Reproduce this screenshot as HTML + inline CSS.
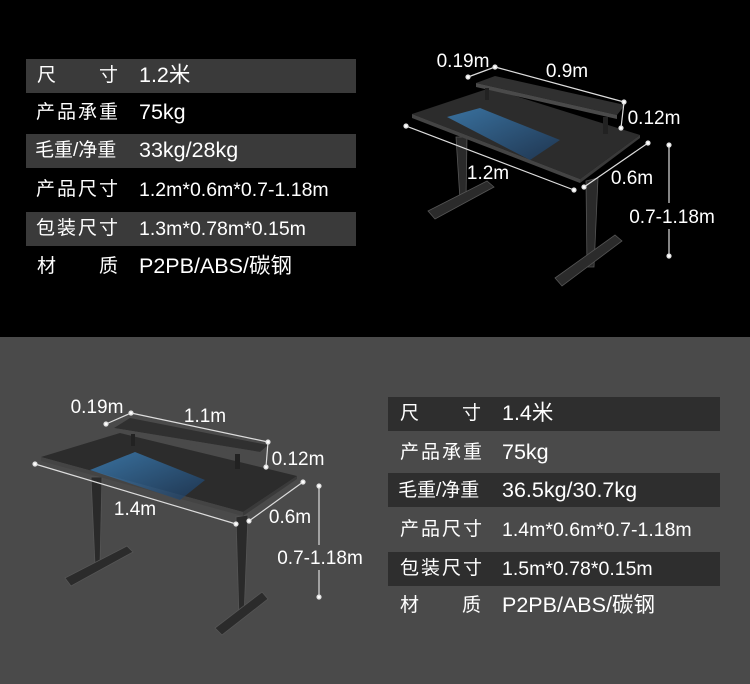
<!DOCTYPE html>
<html><head><meta charset="utf-8"><style>
body{margin:0;width:750px;height:684px;overflow:hidden;background:#000;font-family:"Liberation Sans","Noto Sans CJK SC",sans-serif;color:#fff;position:relative}
.bot{position:absolute;left:0;top:337px;width:750px;height:347px;background:#4a4a4a}
.bar{position:absolute;height:34px}
.t{position:absolute;white-space:nowrap;line-height:1}
.l{font-size:19px;letter-spacing:2px}
.n{font-size:19px;letter-spacing:0}
.v{font-size:21.5px}
.s{font-size:19.5px}
svg{position:absolute;left:0;top:0}
</style></head><body>
<div class="bot"></div>
<div class="bar" style="left:26px;top:59px;width:330px;background:#3a3a3a"></div>
<div class="bar" style="left:26px;top:134px;width:330px;background:#3a3a3a"></div>
<div class="bar" style="left:26px;top:212px;width:330px;background:#3a3a3a"></div>
<div class="bar" style="left:388px;top:397px;width:332px;background:#2e2e2e"></div>
<div class="bar" style="left:388px;top:473px;width:332px;background:#2e2e2e"></div>
<div class="bar" style="left:388px;top:552px;width:332px;background:#2e2e2e"></div>

<div class="t l" style="left:37px;top:66px">尺</div><div class="t l" style="left:99px;top:66px">寸</div><div class="t v" style="left:139px;top:65px">1.2米</div>
<div class="t l" style="left:36px;top:103px">产品承重</div><div class="t v" style="left:139px;top:102px">75kg</div>
<div class="t n" style="left:35px;top:141px">毛重/净重</div><div class="t v" style="left:139px;top:140px">33kg/28kg</div>
<div class="t l" style="left:36px;top:180px">产品尺寸</div><div class="t s" style="left:139px;top:181px">1.2m*0.6m*0.7-1.18m</div>
<div class="t l" style="left:36px;top:219px">包装尺寸</div><div class="t s" style="left:139px;top:220px">1.3m*0.78m*0.15m</div>
<div class="t l" style="left:37px;top:257px">材</div><div class="t l" style="left:99px;top:257px">质</div><div class="t v" style="left:139px;top:256px">P2PB/ABS/碳钢</div>

<div class="t l" style="left:400px;top:404px">尺</div><div class="t l" style="left:462px;top:404px">寸</div><div class="t v" style="left:502px;top:403px">1.4米</div>
<div class="t l" style="left:400px;top:443px">产品承重</div><div class="t v" style="left:502px;top:442px">75kg</div>
<div class="t n" style="left:398px;top:481px">毛重/净重</div><div class="t v" style="left:502px;top:480px">36.5kg/30.7kg</div>
<div class="t l" style="left:400px;top:520px">产品尺寸</div><div class="t s" style="left:502px;top:521px">1.4m*0.6m*0.7-1.18m</div>
<div class="t l" style="left:400px;top:559px">包装尺寸</div><div class="t s" style="left:502px;top:560px">1.5m*0.78*0.15m</div>
<div class="t l" style="left:400px;top:596px">材</div><div class="t l" style="left:462px;top:596px">质</div><div class="t v" style="left:502px;top:595px">P2PB/ABS/碳钢</div>

<svg width="750" height="684" viewBox="0 0 750 684">
<defs><linearGradient id="bl" x1="0" y1="0" x2="1" y2="1"><stop offset="0" stop-color="#3f8fd0"/><stop offset="1" stop-color="#1a3a60"/></linearGradient></defs>
<g>
<polygon points="456,137 467,137 466,200 460,200" fill="#2a2a2a" stroke="#555" stroke-width="0.8"/>
<polygon points="428,211 487,181 494,187 435,219" fill="#2b2b2b" stroke="#555" stroke-width="0.8"/>
<polygon points="586,181 598,178 594,267 587,267" fill="#2a2a2a" stroke="#555" stroke-width="0.8"/>
<polygon points="555,278 615,235 622,241 562,286" fill="#2b2b2b" stroke="#555" stroke-width="0.8"/>
<polygon points="412,114 490,88 640,135 580,179" fill="#2c2c2c"/>
<polygon points="412,114 580,179 580,183 412,118" fill="#444"/>
<polygon points="580,179 640,135 640,138 580,183" fill="#3a3a3a"/>
<polygon points="447,117 480,108 560,140 530,160" fill="url(#bl)" opacity="0.7"/>
<polygon points="476,83 495,76 625,105 617,115" fill="#303030"/>
<polygon points="476,83 617,115 617,119 476,87" fill="#4a4a4a"/>
<rect x="485" y="88" width="4" height="12" fill="#222"/><rect x="603" y="117" width="5" height="17" fill="#222"/>
</g>
<g stroke="#ddd" stroke-width="1.2" fill="#fff">
<line x1="468" y1="77" x2="495" y2="67"/><line x1="495" y1="67" x2="624" y2="102"/><line x1="624" y1="102" x2="621" y2="128"/>
<line x1="406" y1="126" x2="574" y2="190"/><line x1="584" y1="187" x2="648" y2="143"/>
<line x1="669" y1="145" x2="669" y2="203"/><line x1="669" y1="229" x2="669" y2="256"/>
<circle cx="468" cy="77" r="2"/><circle cx="495" cy="67" r="2"/><circle cx="624" cy="102" r="2"/><circle cx="621" cy="128" r="2"/>
<circle cx="406" cy="126" r="2"/><circle cx="574" cy="190" r="2"/><circle cx="584" cy="187" r="2"/><circle cx="648" cy="143" r="2"/>
<circle cx="669" cy="145" r="2"/><circle cx="669" cy="256" r="2"/>
</g>
<g fill="#fff" font-family="Liberation Sans,sans-serif" font-size="19" text-anchor="middle">
<text x="463" y="67">0.19m</text><text x="567" y="77">0.9m</text><text x="654" y="124">0.12m</text>
<text x="488" y="179">1.2m</text><text x="632" y="184">0.6m</text><text x="672" y="223">0.7-1.18m</text>
</g>
<g>
<polygon points="91,477 102,477 100,565 95,565" fill="#2a2a2a" stroke="#555" stroke-width="0.8"/>
<polygon points="65,578 127,546 133,552 71,586" fill="#2b2b2b" stroke="#555" stroke-width="0.8"/>
<polygon points="236,517 248,515 244,617 239,617" fill="#2a2a2a" stroke="#555" stroke-width="0.8"/>
<polygon points="215,628 262,592 268,599 222,635" fill="#2b2b2b" stroke="#555" stroke-width="0.8"/>
<polygon points="41,457 120,433 297,476 243,512" fill="#2c2c2c"/>
<polygon points="41,457 243,512 243,516 41,461" fill="#444"/>
<polygon points="243,512 297,476 297,479 243,516" fill="#3a3a3a"/>
<polygon points="90,470 135,452 205,480 180,500" fill="url(#bl)" opacity="0.7"/>
<polygon points="114,428 130,418 268,445 260,452" fill="#303030"/>
<polygon points="114,428 260,452 260,456 114,432" fill="#4a4a4a"/>
<rect x="131" y="434" width="4" height="12" fill="#222"/><rect x="235" y="454" width="5" height="15" fill="#222"/>
</g>
<g stroke="#ddd" stroke-width="1.2" fill="#fff">
<line x1="106" y1="424" x2="131" y2="413"/><line x1="131" y1="413" x2="268" y2="442"/><line x1="268" y1="442" x2="266" y2="467"/>
<line x1="35" y1="464" x2="236" y2="524"/><line x1="249" y1="521" x2="303" y2="482"/>
<line x1="319" y1="486" x2="319" y2="545"/><line x1="319" y1="570" x2="319" y2="597"/>
<circle cx="106" cy="424" r="2"/><circle cx="131" cy="413" r="2"/><circle cx="268" cy="442" r="2"/><circle cx="266" cy="467" r="2"/>
<circle cx="35" cy="464" r="2"/><circle cx="236" cy="524" r="2"/><circle cx="249" cy="521" r="2"/><circle cx="303" cy="482" r="2"/>
<circle cx="319" cy="486" r="2"/><circle cx="319" cy="597" r="2"/>
</g>
<g fill="#fff" font-family="Liberation Sans,sans-serif" font-size="19" text-anchor="middle">
<text x="97" y="413">0.19m</text><text x="205" y="422">1.1m</text><text x="298" y="465">0.12m</text>
<text x="135" y="515">1.4m</text><text x="290" y="523">0.6m</text><text x="320" y="564">0.7-1.18m</text>
</g>
</svg>
</body></html>
